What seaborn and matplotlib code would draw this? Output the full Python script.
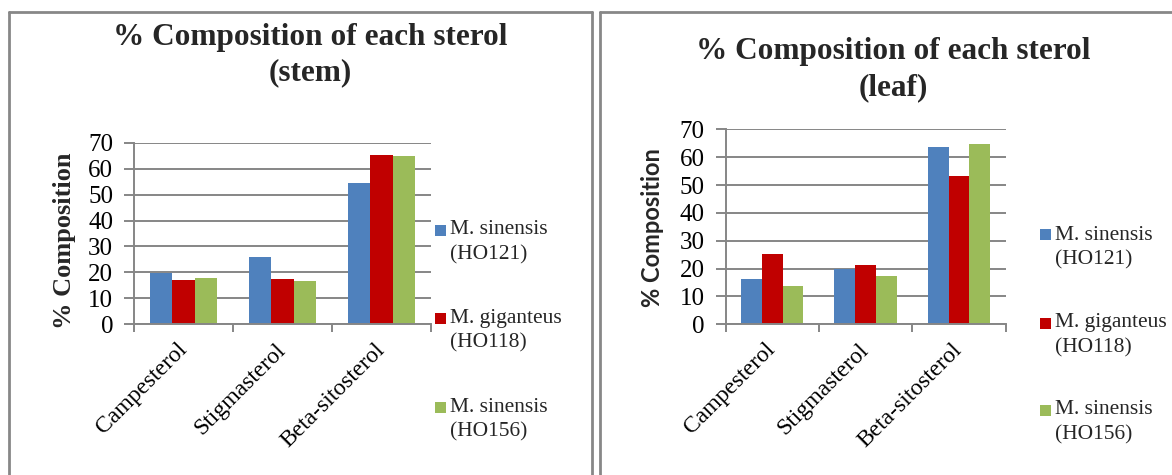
import numpy as np
import pandas as pd
import matplotlib
matplotlib.use("Agg")
import matplotlib.pyplot as plt
import seaborn as sns
from matplotlib.lines import Line2D
from matplotlib.patches import Rectangle

# Sterol composition (%) by accession, stem and leaf tissue
sterols = ["Campesterol", "Stigmasterol", "Beta-sitosterol"]
accessions = ["M. sinensis\n(HO121)", "M. giganteus\n(HO118)", "M. sinensis\n(HO156)"]

stem_ho121 = [19.6, 25.9, 54.3]
stem_ho118 = [17.1, 17.3, 65.2]
stem_ho156 = [18.0, 16.8, 64.7]

leaf_ho121 = [16.3, 19.7, 63.8]
leaf_ho118 = [25.2, 21.3, 53.1]
leaf_ho156 = [13.9, 17.5, 64.6]

y_ticks = [0, 10, 20, 30, 40, 50, 60, 70]
colors = ["#4F81BD", "#C00000", "#9BBB59"]

W, H = 1172, 475
GRID = "#868686"
BORDER = "#878787"
SERIF = "Liberation Serif"

sns.set_theme(style="white")
plt.rcParams["font.family"] = [SERIF, "DejaVu Sans"]

fig = plt.figure(figsize=(W / 100, H / 100), dpi=100)


def fx(x):
    return x / W


def fy(y):
    return 1 - y / H


def long_table(series):
    rows = []
    for acc, vals in zip(accessions, series):
        for st, v in zip(sterols, vals):
            rows.append({"sterol": st, "accession": acc, "pct": v})
    return pd.DataFrame(rows)


def panel(box, series, title, title_y, ylabel_kw, legend_x, legend_y):
    x0, y0, x1, y1 = box
    ax = fig.add_axes([fx(x0), fy(y1), (x1 - x0) / W, (y1 - y0) / H])
    df = long_table(series)
    sns.barplot(data=df, x="sterol", y="pct", hue="accession", order=sterols,
                hue_order=accessions, palette=colors, saturation=1,
                width=0.667, edgecolor="none", linewidth=0, legend=False, ax=ax)
    ax.set_xlim(-0.5, 2.5)
    ax.set_ylim(0, 70)
    ax.set_yticks(y_ticks)
    ax.set_axisbelow(True)
    ax.yaxis.grid(True, color=GRID, linewidth=1.4)
    ax.xaxis.grid(False)
    for side in ["top", "right"]:
        ax.spines[side].set_visible(False)
    for side in ["left", "bottom"]:
        ax.spines[side].set_color(GRID)
        ax.spines[side].set_linewidth(1.4)
    ax.tick_params(axis="y", which="major", left=True, length=7, width=1.4,
                   color=GRID, labelsize=18, pad=8, labelcolor="black")
    ax.set_xticks([0, 1, 2])
    ax.set_xticks([-0.5, 0.5, 1.5, 2.5], minor=True)
    ax.tick_params(axis="x", which="major", length=0, pad=16, labelsize=17,
                   labelcolor="black")
    ax.tick_params(axis="x", which="minor", bottom=True, length=6, width=1.4,
                   color=GRID)
    for lab in ax.get_xticklabels():
        lab.set_rotation(45)
        lab.set_ha("right")
        lab.set_va("center")
        lab.set_rotation_mode("anchor")
    for lab in ax.get_yticklabels():
        lab.set_fontfamily(SERIF)
    ax.set_xlabel("")
    ax.set_ylabel("")
    ax.text(**ylabel_kw, transform=fig.transFigure, rotation=90,
            ha="center", va="center", fontweight="bold")

    cx = (x0 + x1) / 2 + title[1]
    fig.text(fx(cx), fy(title_y[0]), title[0].split("\n")[0], ha="center",
             va="center", fontsize=22.5, fontweight="bold", family=SERIF)
    fig.text(fx(cx), fy(title_y[1]), title[0].split("\n")[1], ha="center",
             va="center", fontsize=22.5, fontweight="bold", family=SERIF)

    for i, (acc, col) in enumerate(zip(accessions, colors)):
        ly = legend_y[i]
        fig.patches.append(Rectangle((fx(legend_x), fy(ly + 5.5)), 11 / W, 11 / H,
                                     transform=fig.transFigure, facecolor=col,
                                     edgecolor="none"))
        line1, line2 = acc.split("\n")
        fig.text(fx(legend_x + 15), fy(ly), line1, ha="left", va="center",
                 fontsize=15.5, family=SERIF)
        fig.text(fx(legend_x + 15), fy(ly + 25), line2, ha="left", va="center",
                 fontsize=15.5, family=SERIF)
    return ax


panel((134, 142.7, 431, 324.3), [stem_ho121, stem_ho118, stem_ho156],
      ("% Composition of each sterol\n(stem)", 28), (37, 73),
      dict(x=fx(64), y=fy(241), s="% Composition", fontsize=19, family=SERIF),
      435, [230, 318, 407])

panel((725.5, 129.3, 1005.7, 324.3), [leaf_ho121, leaf_ho118, leaf_ho156],
      ("% Composition of each sterol\n(leaf)", 28), (52, 88),
      dict(x=fx(653), y=fy(228), s="% Composition", fontsize=17, family="Lato"),
      1040, [235, 323, 410])

# cell borders around each chart
lw = 2.0
for xs, ys in [([9, 9], [12, 480]), ([9, 591.5], [12, 12]), ([591.5, 591.5], [12, 480]),
               ([599.5, 599.5], [12, 480]), ([599.5, 1180], [12, 12])]:
    fig.lines.append(Line2D([fx(v) for v in xs], [fy(v) for v in ys],
                            transform=fig.transFigure, color=BORDER, linewidth=lw))

fig.savefig("out.png", dpi=100, facecolor="white")
